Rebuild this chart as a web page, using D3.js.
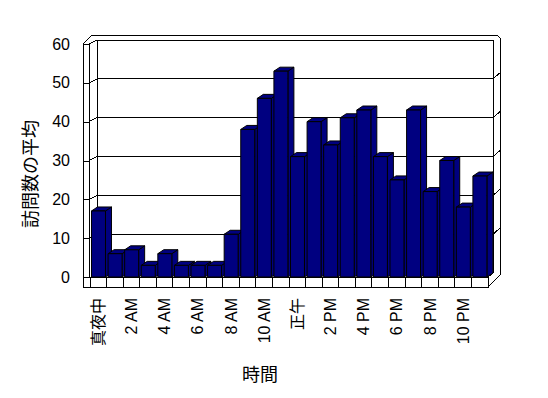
<!DOCTYPE html>
<html>
<head>
<meta charset="utf-8">
<script src="https://cdn.jsdelivr.net/npm/d3@7"></script>
<style>
  body { margin: 0; background: #fff; }
  svg text { font-family: "Liberation Sans", "Noto Sans CJK JP", sans-serif; fill: #000; }
</style>
</head>
<body>
<svg id="chart"></svg>
<script>
'use strict';

// hours of the day and the average visit count for each
const hours = d3.range(24);
const visits = [17, 6, 7, 3, 6, 3, 3, 3, 11, 38, 46, 53,
                31, 40, 34, 41, 43, 31, 25, 43, 22, 30, 18, 26];
const hourLabels = ['真夜中', '', '2 AM', '', '4 AM', '', '6 AM', '', '8 AM', '', '10 AM', '',
                    '正午', '', '2 PM', '', '4 PM', '', '6 PM', '', '8 PM', '', '10 PM', ''];
const valueTicks = [0, 10, 20, 30, 40, 50, 60];
const yTitle = '訪問数の平均';
const xTitle = '時間';

const width = 548;
const height = 398;
const navy = '#000080';

// depth of the box (front plane -> back wall) and of a bar
const depth = { dx: 7, dy: -4 };
const barDepth = { dx: 6, dy: -4 };

const svg = d3.select('#chart')
    .attr('width', width)
    .attr('height', height);

const x = d3.scaleBand()
    .domain(hours)
    .range([90, 488]);
const y = d3.scaleLinear()
    .domain([0, 60])
    .range([277, 44]);

const left = x.range()[0];
const right = x.range()[1];
const floorY = y(0);
const topY = y(60);
const line = (pts) => 'M' + pts.map((p) => p.join(',')).join('L');
const stroke = (sel) => sel.attr('fill', 'none').attr('stroke', '#000').attr('stroke-width', 1);

/**
 * walls and floor
 */
const box = svg.append('g').attr('shape-rendering', 'crispEdges');
const bx = left + depth.dx; // back wall left edge
const rx = right + 5;       // back wall right edge
box.append('path')
    .attr('d', line([[left - 7, floorY + 10], [left - 7, topY], [left + 2, topY - 9],
        [rx + 4, topY - 9], [rx + 7, topY - 6], [rx + 7, floorY - 2]]))
    .call(stroke);
box.append('path')
    .attr('d', line([[left - 1, floorY], [left - 1, topY], [bx, topY + depth.dy],
        [rx, topY + depth.dy], [rx, floorY + depth.dy]]))
    .call(stroke);
box.append('path')
    .attr('d', line([[left - 7, topY], [left - 1, topY]]))
    .call(stroke);
box.append('path')
    .attr('d', line([[bx, topY + depth.dy], [bx, floorY + depth.dy]]))
    .call(stroke);

// gridlines: across the side wall, the back wall and the wall edge
box.selectAll('.grid')
    .data(valueTicks.filter((v) => v > 0 && v < 60))
    .enter().append('path')
    .attr('class', 'grid')
    .attr('d', (v) => line([[left - 1, y(v)], [bx, y(v) + depth.dy],
        [rx, y(v) + depth.dy], [rx + 7, y(v) + depth.dy - 6]]))
    .call(stroke);

// floor slab
box.append('rect')
    .attr('x', left - 7)
    .attr('y', floorY)
    .attr('width', right - left + 7)
    .attr('height', 10)
    .attr('fill', '#fff')
    .attr('stroke', '#000');
box.append('path')
    .attr('d', line([[right, floorY], [rx, floorY + depth.dy]]) +
        line([[right, floorY + 10], [rx + 7, floorY - 2]]))
    .call(stroke);
box.selectAll('.cat-tick')
    .data(hours)
    .enter().append('line')
    .attr('class', 'cat-tick')
    .attr('x1', (d) => x(d))
    .attr('x2', (d) => x(d))
    .attr('y1', floorY)
    .attr('y2', floorY + 10)
    .attr('stroke', '#000');

/**
 * bars, drawn left to right so each front face covers the previous side
 */
const bw = x.bandwidth() - 2.6;
const bars = svg.selectAll('.bar')
    .data(hours)
    .enter().append('g')
    .attr('class', 'bar')
    .attr('fill', navy)
    .attr('stroke', '#000')
    .attr('stroke-width', 1)
    .attr('stroke-linejoin', 'round');
bars.append('path')
    .attr('d', (d) => {
      const x1 = x(d) + 1.5 + bw;
      const yt = y(visits[d]);
      return line([[x1, yt], [x1 + barDepth.dx, yt + barDepth.dy],
          [x1 + barDepth.dx, floorY + barDepth.dy], [x1, floorY]]) + 'Z';
    });
bars.append('path')
    .attr('d', (d) => {
      const x0 = x(d) + 1.5;
      const yt = y(visits[d]);
      return line([[x0, yt], [x0 + barDepth.dx, yt + barDepth.dy],
          [x0 + bw + barDepth.dx, yt + barDepth.dy], [x0 + bw, yt]]) + 'Z';
    });
bars.append('rect')
    .attr('x', (d) => x(d) + 1.5)
    .attr('y', (d) => y(visits[d]))
    .attr('width', bw)
    .attr('height', (d) => floorY - y(visits[d]));

/**
 * value axis on the front edge of the side wall
 */
const yAxis = svg.append('g')
    .attr('transform', 'translate(' + (left - 1) + ',0)')
    .call(d3.axisLeft(y).tickValues(valueTicks).tickSize(6).tickPadding(13));
yAxis.select('.domain').remove();
yAxis.selectAll('line').attr('shape-rendering', 'crispEdges');
yAxis.selectAll('text')
    .style('font-size', '16px');

/**
 * category axis, rotated labels
 */
const xAxis = svg.append('g')
    .attr('transform', 'translate(0,' + (floorY + 21) + ')')
    .call(d3.axisBottom(x).tickSize(0).tickFormat((d) => hourLabels[d]));
xAxis.select('.domain').remove();
xAxis.selectAll('text')
    .style('font-size', '16px')
    .attr('text-anchor', 'end')
    .attr('transform', 'rotate(-90)')
    .attr('x', 0)
    .attr('y', 0)
    .attr('dy', '0.35em');

/**
 * axis titles
 */
svg.append('text')
    .attr('transform', 'translate(31,174) rotate(-90)')
    .attr('text-anchor', 'middle')
    .attr('dominant-baseline', 'central')
    .style('font-size', '18px')
    .text(yTitle);
svg.append('text')
    .attr('x', 260)
    .attr('y', 375)
    .attr('text-anchor', 'middle')
    .attr('dominant-baseline', 'central')
    .style('font-size', '18px')
    .text(xTitle);
</script>
</body>
</html>
